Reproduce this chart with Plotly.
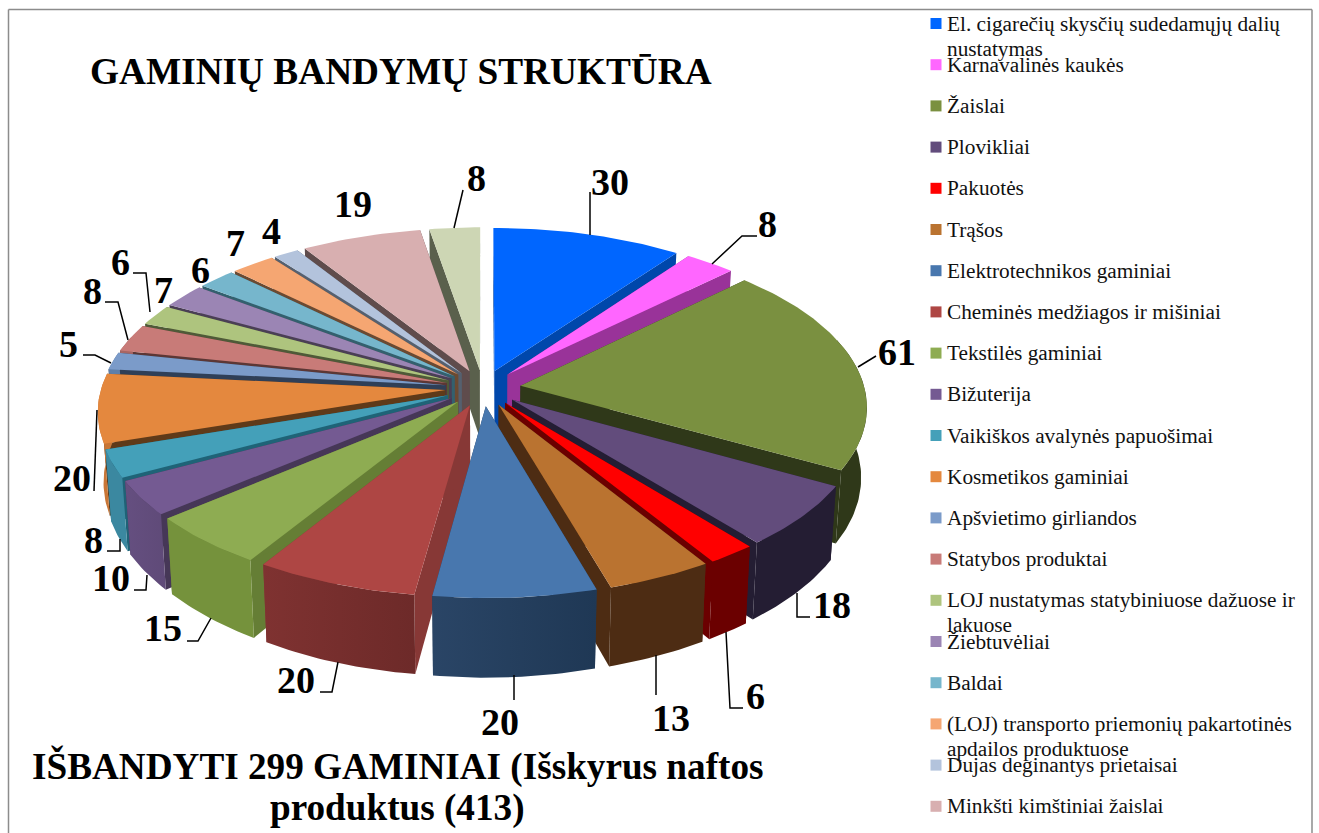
import numpy as np
import plotly.graph_objects as go

CATEGORIES = ["El. cigarečių skysčių sudedamųjų dalių<br>nustatymas", "Karnavalinės kaukės", "Žaislai", "Plovikliai",
              "Pakuotės", "Trąšos", "Elektrotechnikos gaminiai", "Cheminės medžiagos ir mišiniai",
              "Tekstilės gaminiai", "Bižuterija", "Vaikiškos avalynės papuošimai", "Kosmetikos gaminiai",
              "Apšvietimo girliandos", "Statybos produktai", "LOJ nustatymas statybiniuose dažuose ir<br>lakuose",
              "Žiebtuvėliai", "Baldai", "(LOJ) transporto priemonių pakartotinės<br>apdailos produktuose",
              "Dujas deginantys prietaisai", "Minkšti kimštiniai žaislai", ""]
VALUES = [30, 8, 61, 18, 6, 13, 20, 20, 15, 10, 8, 20, 5, 8, 6, 7, 6, 7, 4, 19, 8]

TOP = ["#0066FF", "#FF66FF", "#7A9040", "#624C7C", "#FF0000", "#BA7330", "#4877AE", "#AE4644", "#8EAC52", "#745A92",
       "#44A0B9", "#E4883E", "#7B9BC9", "#C87B78", "#AEC47E", "#9B85B4", "#76B6CC", "#F5A672", "#B3C3DC", "#D8AFB0", "#CDD6B4"]
RADIAL = ["#0047AB", "#993399", "#2F3819", "#241D33", "#6B0000", "#4D2C13", "#233A57", "#873836", "#657E35", "#463757",
          "#1F6377", "#5F3A19", "#2F3F57", "#5C3735", "#4F5A38", "#4A3F55", "#33606E", "#6B4A32", "#55606F", "#5F4C4C", "#5A604C"]
OUTER_L = ["#0047AB", "#993399", "#2F3819", "#241D33", "#6B0000", "#4D2C13", "#2A4566", "#7F3231", "#75923C", "#654F80",
           "#3B88A0", "#C97636", "#5D7FAA", "#A86663", "#93A96A", "#846FA0", "#5F9DB3", "#D38A58", "#97A8C2", "#B89293", "#AEB797"]
OUTER_R = ["#0047AB", "#993399", "#2F3819", "#241D33", "#6B0000", "#4D2C13", "#1F3855", "#6D2A29", "#75923C", "#5F4A78",
           "#3B88A0", "#C97636", "#5D7FAA", "#A86663", "#93A96A", "#846FA0", "#5F9DB3", "#D38A58", "#97A8C2", "#B89293", "#AEB797"]

TITLE = "GAMINIŲ BANDYMŲ STRUKTŪRA"
SUBTITLE = ["IŠBANDYTI 299 GAMINIAI (Išskyrus naftos", "produktus (413)"]

# label anchor and leader line for each slice (layout only)
LABEL_XY = [(610, 182), (767, 224), (897, 352), (832, 605), (755, 696), (671, 718), (500, 722), (296, 680), (163, 628),
            (111, 578), (93, 540), (72, 478), (68, 344), (92, 291), (120, 262), (163, 290), (200, 270), (235, 243),
            (271, 231), (353, 204), (476, 178)]
LEADERS = [[(590, 235), (590, 192)], [(712, 264), (742, 236), (757, 236)], [(858, 367), (876, 356)],
           [(797, 593), (797, 617), (810, 617)], [(726, 632), (730, 708), (743, 708)], [(656, 655), (656, 695)],
           [(514, 675), (514, 700)], [(338, 662), (332, 692), (320, 692)], [(211, 618), (198, 641), (187, 641)],
           [(147, 575), (146, 590), (134, 590)], [(120, 539), (120, 551), (107, 551)], [(97, 410), (94, 491)],
           [(111, 363), (95, 355), (83, 355)], [(128, 340), (118, 302), (105, 302)], [(150, 312), (146, 273), (133, 273)],
           [], [], [], [], [], [(454, 228), (463, 190)]]

CX, CY, R, K, D, P, Q, EXPL = 483, 388, 344, 0.477, 69, 0.12, 0.015, 0.11
FONT = "Liberation Serif"


def proj(x, y, z):
    s = 1 / (1 - P * y)
    return CX + R * x * s * (1 - Q * np.asarray(z, float)), CY + R * K * y * s + D * z * s


fig = go.Figure()
vals = np.array(VALUES, float)
edges = np.concatenate([[0], np.cumsum(vals)]) / vals.sum() * 2 * np.pi
mids = (edges[:-1] + edges[1:]) / 2
order = np.argsort(-np.cos(mids))  # back of the pie first


def poly(xs, ys, color, grad=None):
    kw = dict(x=list(xs), y=list(ys), mode="lines", fill="toself", line=dict(width=0, color=color),
              hoverinfo="skip", showlegend=False)
    if grad:
        kw["fillgradient"] = dict(type="horizontal", colorscale=[[0, grad[0]], [1, grad[1]]])
    else:
        kw["fillcolor"] = color
    fig.add_trace(go.Scatter(**kw))


for i in order:
    a = np.linspace(edges[i], edges[i + 1], max(4, int((edges[i + 1] - edges[i]) * 60)))
    ox, oy = EXPL * np.sin(mids[i]), -EXPL * np.cos(mids[i])
    rx, ry = ox + np.sin(a), oy - np.cos(a)
    # radial walls
    for e in (0, -1):
        xs = [ox, rx[e], rx[e], ox]
        ys = [oy, ry[e], ry[e], oy]
        zs = [0, 0, 1, 1]
        px, py = zip(*[proj(*t) for t in zip(xs, ys, zs)])
        poly(px + px[:1], py + py[:1], RADIAL[i])
    # outer wall, only where it faces the viewer
    tx, ty = proj(rx, ry, 0)
    front = -np.cos(a) > -0.3
    if front.sum() >= 2:
        bx, by = proj(rx[front], ry[front], 1)
        fx, fy = tx[front], ty[front]
        poly(np.r_[fx, bx[::-1], fx[:1]], np.r_[fy, by[::-1], fy[:1]], OUTER_L[i], (OUTER_L[i], OUTER_R[i]))
    # top
    c0x, c0y = proj(ox, oy, 0)
    poly(np.r_[c0x, tx, c0x], np.r_[c0y, ty, c0y], TOP[i])

# leader lines
for pts in LEADERS:
    if pts:
        xs, ys = zip(*pts)
        fig.add_trace(go.Scatter(x=xs, y=ys, mode="lines", line=dict(color="black", width=1.5),
                                 hoverinfo="skip", showlegend=False))

ann = []
for v, (x, y) in zip(VALUES, LABEL_XY):
    ann.append(dict(x=x, y=y, text=f"<b>{v}</b>", showarrow=False, xanchor="center", yanchor="middle",
                    font=dict(family=FONT, size=38, color="black")))

# legend
ROW0, PITCH, LEG_X, LINE2 = 23.5, 41.2, 936, 25
names = CATEGORIES[:20]
fig.add_trace(go.Scatter(x=[LEG_X] * 20, y=[ROW0 + PITCH * n for n in range(20)], mode="markers",
                         marker=dict(symbol="square", size=11, color=TOP[:20], line=dict(width=0)),
                         hoverinfo="skip", showlegend=False))
for n, name in enumerate(names):
    for j, part in enumerate(name.split("<br>")):
        ann.append(dict(x=LEG_X + 9.5, y=ROW0 + PITCH * n + j * LINE2, text=part, showarrow=False,
                        xanchor="left", yanchor="middle", align="left", borderpad=0,
                        font=dict(family=FONT, size=21.3, color="#111111")))

ann.append(dict(x=400.5, y=71, text=f"<b>{TITLE}</b>", showarrow=False, xanchor="center", yanchor="middle",
                font=dict(family=FONT, size=37.3, color="black")))
for part, y in zip(SUBTITLE, (766, 808)):
    ann.append(dict(x=397, y=y, text=f"<b>{part}</b>", showarrow=False, xanchor="center", yanchor="middle",
                    font=dict(family=FONT, size=37.2, color="black")))

shapes = [dict(type="line", x0=x0, y0=y0, x1=x1, y1=y1, line=dict(color="#8C8C8C", width=1.5), layer="below")
          for x0, y0, x1, y1 in [(8.5, 9.5, 8.5, 833), (8.5, 9.5, 1312, 9.5), (1312, 9.5, 1312, 833)]]

fig.update_layout(width=1319, height=833, margin=dict(l=0, r=0, t=0, b=0), paper_bgcolor="white", plot_bgcolor="white",
                  xaxis=dict(range=[0, 1319], visible=False, fixedrange=True),
                  yaxis=dict(range=[833, 0], visible=False, fixedrange=True),
                  annotations=ann, shapes=shapes, showlegend=False)
fig.write_html("out.html", config=dict(displayModeBar=False),
               post_script="document.body.style.margin='0';")
